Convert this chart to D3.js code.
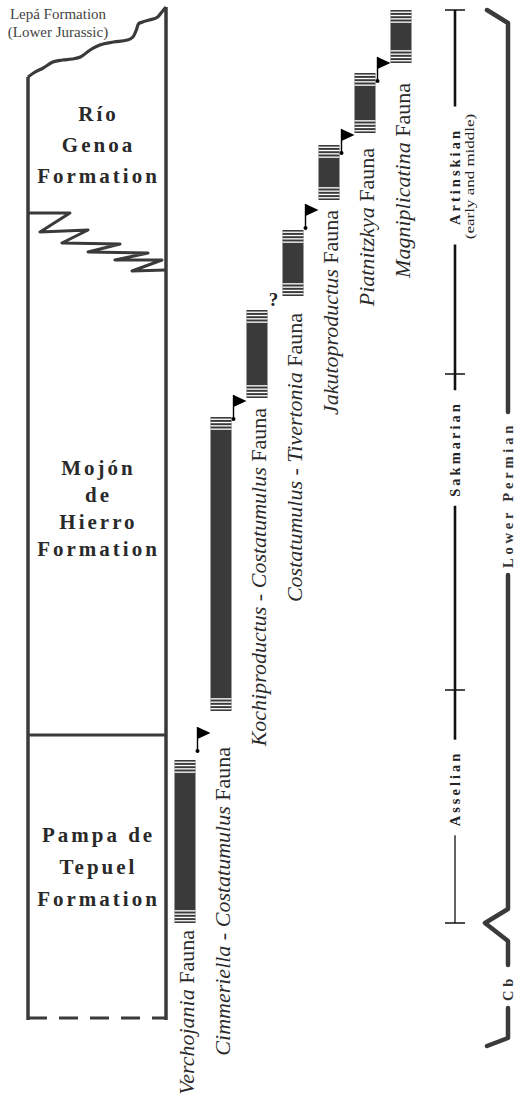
<!DOCTYPE html>
<html>
<head>
<meta charset="utf-8">
<script src="https://cdn.jsdelivr.net/npm/d3@7"></script>
<style>
  body { margin: 0; background: #fff; }
  svg { display: block; font-family: "Liberation Serif", "Times New Roman", serif; }
</style>
</head>
<body>
<div id="chart"></div>
<script>
// stratigraphic levels are in relative units, 0 = base of the section
var faunas = [
  'Verchojania Fauna',
  'Cimmeriella - Costatumulus Fauna',
  'Kochiproductus - Costatumulus Fauna',
  'Costatumulus - Tivertonia Fauna',
  'Jakutoproductus Fauna',
  'Piatnitzkya Fauna',
  'Magniplicatina Fauna'
];
var faunaBase = [9.5, 30.7, 62.0, 72.2, 81.8, 88.5, 95.5];
var faunaTop = [25.8, 60.1, 70.8, 78.8, 87.3, 94.5, 100.8];
var faunaMarker = ['flag', 'flag', '?', 'flag', 'flag', 'flag', ''];
var markerLevel = [26.7, 59.9, 71.8, 79.0, 86.5, 93.7, null];

var formationLines = [
  ['Río', 'Genoa', 'Formation'],
  ['Mojón', 'de', 'Hierro', 'Formation'],
  ['Pampa de', 'Tepuel', 'Formation']
];
var formationMid = [87.3, 51.0, 15.1];
var contactLevel = 28.3; // Pampa de Tepuel / Mojón de Hierro

// top unconformity (Lepá Fm.) and interfingering contact, as [fraction of column, level]
var topSurface = [[0, 94.1], [0.04, 94.5], [0.11, 95.0], [0.18, 95.6], [0.25, 95.8], [0.32, 95.9],
  [0.38, 96.1], [0.45, 96.8], [0.52, 97.3], [0.62, 97.6], [0.72, 97.8], [0.76, 98.1],
  [0.785, 98.8], [0.8, 99.4], [0.83, 99.6], [0.88, 99.8], [0.94, 100.1], [0.97, 100.6], [1, 101.1]];
var tongue = [[0, 80.5], [0.304, 80.5], [0.087, 78.6], [0.435, 78.8], [0.246, 77.5], [0.667, 77.4],
  [0.435, 76.6], [0.87, 76.5], [0.63, 75.8], [0.971, 75.8], [0.754, 74.7], [1, 74.8]];

var stages = ['Artinskian', 'Sakmarian', 'Asselian'];
var stageTop = [100.8, 64.4, 32.8];
var stageBase = [64.4, 32.8, 9.5];
var stageNote = ['(early and middle)', '', ''];

var periods = ['Lower Permian', 'Cb'];
var periodTop = [100.8, 9.5];
var periodBase = [9.5, -2.8];

var W = 516, H = 1107;
var ink = '#3a3a3a';

var svg = d3.select('#chart').append('svg')
  .attr('width', W)
  .attr('height', H);

var y = d3.scaleLinear().domain([0, 101]).range([1018, 8]);
var colX = d3.scaleLinear().domain([0, 1]).range([28, 166]);
var x = d3.scalePoint().domain(faunas).range([185, 401]);

// ---- lithostratigraphic column
var col = svg.append('g').attr('class', 'column');

col.append('path')
  .attr('d', d3.line().x(d => colX(d[0])).y(d => y(d[1])).curve(d3.curveMonotoneX)(topSurface))
  .attr('fill', 'none').attr('stroke', ink).attr('stroke-width', 3.2);

col.append('line')
  .attr('x1', colX(0)).attr('x2', colX(0))
  .attr('y1', y(topSurface[0][1])).attr('y2', y(-0.2))
  .attr('stroke', ink).attr('stroke-width', 3.5);
col.append('line')
  .attr('x1', colX(1)).attr('x2', colX(1))
  .attr('y1', y(101.1)).attr('y2', y(-0.2))
  .attr('stroke', ink).attr('stroke-width', 3.5);

col.append('line')
  .attr('x1', colX(0)).attr('x2', colX(1))
  .attr('y1', y(contactLevel)).attr('y2', y(contactLevel))
  .attr('stroke', ink).attr('stroke-width', 3);

col.append('line')
  .attr('x1', colX(0)).attr('x2', colX(1))
  .attr('y1', y(0)).attr('y2', y(0))
  .attr('stroke', ink).attr('stroke-width', 3)
  .attr('stroke-dasharray', '19,12');

col.append('path')
  .attr('d', d3.line().x(d => colX(d[0])).y(d => y(d[1])).curve(d3.curveLinear)(tongue))
  .attr('fill', 'none').attr('stroke', ink).attr('stroke-width', 3)
  .attr('stroke-linejoin', 'round');

svg.append('text')
  .attr('x', 58).attr('y', 19)
  .attr('text-anchor', 'middle')
  .style('font-size', '15px').attr('fill', '#444')
  .text('Lepá Formation');
svg.append('text')
  .attr('x', 58).attr('y', 37)
  .attr('text-anchor', 'middle')
  .style('font-size', '15px').attr('fill', '#444')
  .text('(Lower Jurassic)');

var lineGap = [31, 27, 32];
formationLines.forEach(function(lines, i) {
  var start = y(formationMid[i]) - (lines.length - 1) * lineGap[i] / 2;
  svg.append('g').selectAll('text')
    .data(lines)
    .enter()
      .append('text')
      .attr('x', colX(0.5) + 1.5)
      .attr('y', (d, j) => start + j * lineGap[i] + 7)
      .attr('text-anchor', 'middle')
      .style('font-size', '21px')
      .style('font-weight', 'bold')
      .style('letter-spacing', '3px')
      .attr('fill', '#2a2a2a')
      .text(d => d);
});

// ---- fauna ranges
var bw = 21;
var fauna = svg.selectAll('.fauna')
  .data(faunas)
  .enter()
    .append('g')
    .attr('class', 'fauna');

fauna.append('rect')
  .attr('x', d => x(d) - bw / 2)
  .attr('y', (d, i) => y(faunaTop[i]))
  .attr('width', bw)
  .attr('height', (d, i) => y(faunaBase[i]) - y(faunaTop[i]))
  .attr('fill', ink);

// hatched (white-lined) ends of each range
fauna.each(function(d, i) {
  var g = d3.select(this);
  var offs = [1.6, 4.9, 8.2, 11.5];
  offs.forEach(function(o) {
    [y(faunaTop[i]) + o, y(faunaBase[i]) - o - 1.3].forEach(function(yy) {
      g.append('rect')
        .attr('x', x(d) - bw / 2)
        .attr('y', yy)
        .attr('width', bw)
        .attr('height', 1.3)
        .attr('fill', '#fff');
    });
  });
});

// flags and query marks
fauna.each(function(d, i) {
  var g = d3.select(this);
  var px = x(d) + bw / 2 + 2;
  var py = y(markerLevel[i]);
  if (faunaMarker[i] === 'flag') {
    g.append('line')
      .attr('x1', px).attr('x2', px)
      .attr('y1', py).attr('y2', py - 24)
      .attr('stroke', '#000').attr('stroke-width', 1.4);
    g.append('circle')
      .attr('cx', px).attr('cy', py).attr('r', 2)
      .attr('fill', '#000');
    g.append('path')
      .attr('d', `M${px},${py - 24} L${px + 13},${py - 18} L${px},${py - 12} Z`)
      .attr('fill', '#000');
  } else if (faunaMarker[i] === '?') {
    g.append('text')
      .attr('x', px + 4).attr('y', py + 6)
      .attr('text-anchor', 'middle')
      .style('font-size', '19px').style('font-weight', 'bold')
      .attr('fill', '#222')
      .text('?');
  }
});

var labelGap = [7, 36, 10, 17, 10, 15, 20];
fauna.append('text')
  .attr('transform', (d, i) => `translate(${x(d) + 9}, ${y(faunaBase[i]) + labelGap[i]}) rotate(-90)`)
  .attr('text-anchor', 'end')
  .style('font-size', '22px')
  .attr('fill', '#2a2a2a')
  .each(function(d) {
    var t = d3.select(this);
    d.split(/( - | Fauna)/).filter(s => s.length).forEach(function(part) {
      var plain = part === ' - ' || part === ' Fauna';
      t.append('tspan')
        .style('font-style', plain ? 'normal' : 'italic')
        .text(part);
    });
  });

// ---- stages
var sx = 455;
var stageMid = [84.15, 56.9, 22.95];
var gaps = [];
stages.forEach(function(s, i) {
  var cy = y(stageMid[i]);
  var lab = svg.append('text')
    .attr('transform', `translate(${sx + 5}, ${cy}) rotate(-90)`)
    .attr('text-anchor', 'middle')
    .style('font-size', '14.5px')
    .style('font-weight', 'bold')
    .style('letter-spacing', '3px')
    .attr('fill', '#222')
    .text(s);
  var len = lab.node().getComputedTextLength();
  if (stageNote[i]) {
    svg.append('text')
      .attr('transform', `translate(${sx + 19}, ${cy}) rotate(-90) scale(1, 0.72)`)
      .attr('text-anchor', 'middle')
      .style('font-size', '17px')
      .attr('fill', '#222')
      .text(stageNote[i]);
    len = Math.max(len, 118);
  }
  gaps.push([cy - len / 2 - 11, cy + len / 2 + 9]);
});

var stageEdges = [y(stageTop[0])].concat(gaps.flat(), [y(stageBase[2])]);
d3.range(0, stageEdges.length, 2).forEach(function(k, j) {
  svg.append('line')
    .attr('x1', sx).attr('x2', sx)
    .attr('y1', stageEdges[k]).attr('y2', stageEdges[k + 1])
    .attr('stroke', '#111')
    .attr('stroke-width', j === 3 ? 1.3 : 2.6);
});

var bounds = stageTop.concat([stageBase[2]]);
svg.selectAll('.tick')
  .data(bounds)
  .enter()
    .append('line')
    .attr('class', 'tick')
    .attr('x1', sx - 10).attr('x2', sx + 10)
    .attr('y1', d => y(d)).attr('y2', d => y(d))
    .attr('stroke', '#111').attr('stroke-width', 1.5);

// ---- periods bracket
var bx = 508;
var periodMid = [52.3, 3.0];
var pgaps = periods.map(function(p, i) {
  var cy = y(periodMid[i]);
  var lab = svg.append('text')
    .attr('transform', `translate(${bx + 5}, ${cy}) rotate(-90)`)
    .attr('text-anchor', 'middle')
    .style('font-size', '14.5px')
    .style('font-weight', 'bold')
    .style('letter-spacing', '3.8px')
    .attr('fill', '#333')
    .text(p);
  var len = lab.node().getComputedTextLength();
  return [cy - len / 2 - 10, cy + len / 2 + 7];
});

var yTop = y(periodTop[0]), yB = y(periodTop[1]), yEnd = y(periodBase[1]);
var bracket = [
  [[bx - 21, yTop], [bx, yTop + 13], [bx, pgaps[0][0]]],
  [[bx, pgaps[0][1]], [bx, yB - 14], [bx - 23, yB], [bx, yB + 18], [bx, pgaps[1][0]]],
  [[bx, pgaps[1][1]], [bx, yEnd - 8], [bx - 21, yEnd]]
];
svg.selectAll('.bracket')
  .data(bracket)
  .enter()
    .append('path')
    .attr('class', 'bracket')
    .attr('d', d3.line())
    .attr('fill', 'none')
    .attr('stroke', ink)
    .attr('stroke-width', 4.5)
    .attr('stroke-linecap', 'round')
    .attr('stroke-linejoin', 'round');
</script>
</body>
</html>
